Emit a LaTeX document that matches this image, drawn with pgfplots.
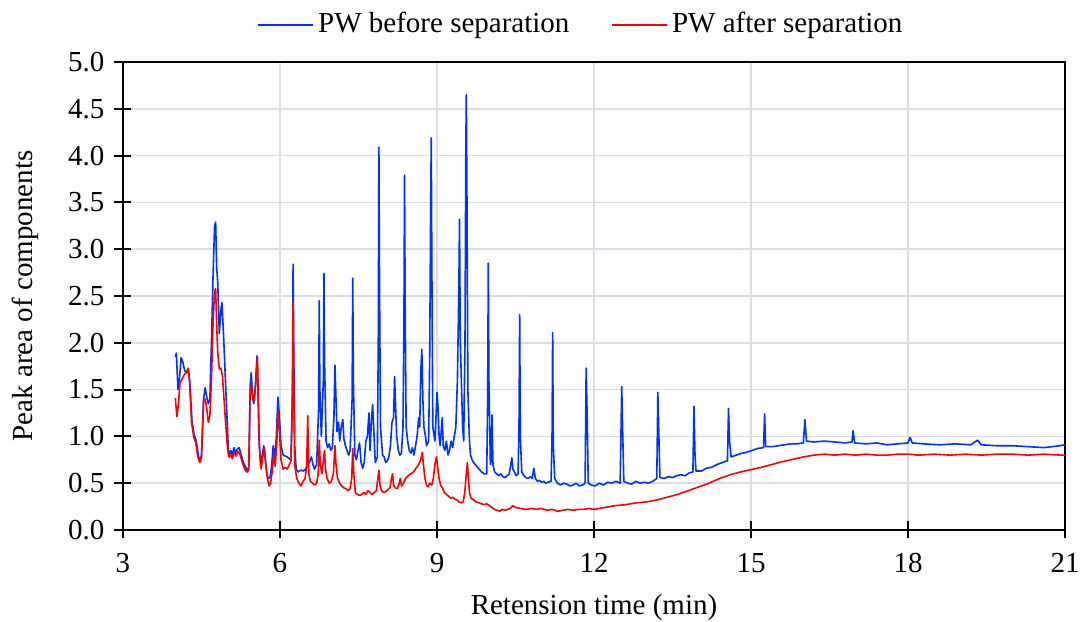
\documentclass[border=0pt]{standalone}
\usepackage{fontspec}
\setmainfont{Liberation Serif}
\usepackage{pgfplots}
\usepackage{pgfplotstable}
\pgfplotsset{compat=1.18}
\definecolor{pwblue}{RGB}{0,51,255}
\definecolor{pwred}{RGB}{255,0,0}
\definecolor{gridc}{RGB}{217,222,231}
\pgfplotstableread{
x y
4.00 1.85
4.02 1.89
4.05 1.50
4.08 1.62
4.11 1.84
4.14 1.80
4.18 1.70
4.22 1.68
4.25 1.73
4.28 1.55
4.32 1.15
4.36 1.02
4.40 0.95
4.44 0.80
4.47 0.73
4.50 0.80
4.54 1.40
4.57 1.52
4.60 1.42
4.63 1.35
4.66 1.40
4.69 2.00
4.72 2.70
4.75 3.25
4.77 3.29
4.79 2.80
4.81 2.65
4.84 2.10
4.87 2.35
4.89 2.43
4.92 2.10
4.95 1.70
4.98 1.30
5.01 0.90
5.03 0.78
5.06 0.85
5.09 0.80
5.12 0.88
5.15 0.82
5.18 0.86
5.22 0.88
5.26 0.80
5.30 0.72
5.34 0.68
5.38 0.62
5.41 0.70
5.43 1.55
5.45 1.68
5.48 1.40
5.50 1.35
5.53 1.55
5.56 1.86
5.58 1.45
5.60 0.95
5.63 0.68
5.66 0.80
5.69 0.90
5.72 0.75
5.75 0.60
5.78 0.55
5.81 0.56
5.84 0.68
5.87 0.90
5.90 0.75
5.93 1.00
5.96 1.42
5.99 1.20
6.02 0.90
6.06 0.80
6.10 0.79
6.14 0.78
6.18 0.76
6.21 0.75
6.238 1.50
6.25 2.84
6.262 2.00
6.28 0.90
6.31 0.65
6.35 0.62
6.40 0.64
6.45 0.63
6.50 0.66
6.53 0.70
6.56 0.72
6.60 0.78
6.63 0.70
6.66 0.65
6.70 0.70
6.738 1.30
6.75 2.45
6.762 1.50
6.79 1.00
6.828 1.60
6.84 2.74
6.852 1.80
6.88 0.95
6.91 0.88
6.94 0.92
6.97 0.85
7.00 0.88
7.03 1.20
7.05 1.76
7.07 1.40
7.09 1.05
7.12 1.15
7.14 0.95
7.17 1.10
7.20 1.18
7.22 0.98
7.25 0.90
7.28 0.85
7.31 0.80
7.34 0.85
7.378 1.40
7.39 2.69
7.402 1.60
7.43 0.80
7.46 0.75
7.49 0.85
7.52 0.93
7.55 0.72
7.58 0.66
7.61 0.72
7.64 0.95
7.67 1.00
7.70 1.25
7.72 0.85
7.75 1.20
7.77 1.34
7.79 1.10
7.82 0.72
7.86 0.78
7.878 2.00
7.89 4.09
7.902 2.60
7.92 1.10
7.96 0.80
7.99 0.78
8.02 0.72
8.05 0.74
8.08 0.78
8.11 0.90
8.14 1.15
8.17 1.20
8.19 1.64
8.21 1.30
8.23 1.00
8.26 0.85
8.29 0.80
8.32 0.82
8.35 1.10
8.368 2.20
8.38 3.79
8.392 2.40
8.41 1.10
8.44 0.95
8.47 0.85
8.50 0.82
8.53 0.88
8.56 0.80
8.59 0.90
8.62 1.00
8.65 1.20
8.67 1.10
8.69 1.70
8.71 1.93
8.73 1.40
8.75 1.10
8.78 1.00
8.80 0.90
8.84 0.95
8.86 1.80
8.876 3.20
8.89 4.19
8.902 2.80
8.92 1.10
8.96 0.95
8.98 1.20
9.00 1.47
9.02 1.30
9.04 1.00
9.06 0.90
9.08 1.05
9.10 1.20
9.12 0.90
9.15 0.85
9.18 0.95
9.21 0.80
9.24 0.85
9.27 0.95
9.30 0.88
9.33 1.00
9.36 1.10
9.39 1.60
9.418 2.60
9.43 3.32
9.445 2.05
9.47 1.50
9.49 1.10
9.51 0.95
9.535 2.00
9.55 4.00
9.56 4.65
9.572 3.60
9.59 1.50
9.62 0.95
9.64 0.80
9.67 0.75
9.70 0.72
9.73 0.70
9.76 0.68
9.79 0.66
9.82 0.64
9.85 0.62
9.88 0.61
9.90 0.60
9.95 0.60
9.968 1.40
9.98 2.85
9.992 1.60
10.02 0.70
10.04 0.75
10.05 1.23
10.07 0.70
10.10 0.62
10.14 0.60
10.18 0.58
10.22 0.60
10.26 0.57
10.30 0.56
10.34 0.58
10.38 0.60
10.41 0.70
10.43 0.77
10.45 0.65
10.48 0.62
10.51 0.58
10.55 0.60
10.568 1.20
10.58 2.30
10.592 1.00
10.62 0.62
10.66 0.58
10.70 0.56
10.74 0.55
10.78 0.57
10.82 0.55
10.85 0.66
10.88 0.55
10.92 0.52
10.96 0.53
11.00 0.51
11.04 0.52
11.08 0.50
11.12 0.51
11.18 0.52
11.198 1.00
11.21 2.11
11.222 0.90
11.25 0.55
11.30 0.50
11.36 0.48
11.42 0.50
11.48 0.49
11.54 0.47
11.60 0.48
11.66 0.50
11.72 0.47
11.78 0.48
11.83 0.50
11.85 1.73
11.87 1.20
11.89 0.50
11.95 0.48
12.02 0.47
12.10 0.50
12.18 0.48
12.26 0.51
12.34 0.50
12.42 0.52
12.50 0.50
12.53 1.53
12.55 1.00
12.57 0.52
12.64 0.50
12.72 0.49
12.80 0.52
12.88 0.50
12.96 0.51
13.04 0.50
13.12 0.52
13.20 0.55
13.22 1.47
13.24 1.00
13.26 0.56
13.34 0.55
13.42 0.57
13.50 0.56
13.58 0.58
13.66 0.59
13.74 0.58
13.82 0.61
13.89 0.62
13.91 1.32
13.93 0.80
13.95 0.63
14.05 0.63
14.15 0.66
14.25 0.67
14.35 0.70
14.45 0.72
14.55 0.74
14.57 1.30
14.59 0.95
14.62 0.78
14.72 0.80
14.82 0.82
14.92 0.83
15.02 0.85
15.12 0.87
15.24 0.88
15.26 1.24
15.28 0.89
15.40 0.89
15.52 0.90
15.64 0.91
15.76 0.92
15.88 0.92
16.00 0.93
16.03 1.18
16.06 0.95
16.20 0.94
16.40 0.95
16.60 0.94
16.80 0.93
16.93 0.94
16.95 1.06
16.98 0.93
17.20 0.92
17.40 0.93
17.60 0.91
17.80 0.92
18.00 0.93
18.04 0.99
18.08 0.93
18.30 0.92
18.60 0.91
18.90 0.92
19.20 0.91
19.33 0.96
19.40 0.91
19.70 0.90
20.00 0.90
20.30 0.89
20.60 0.88
20.90 0.90
21.00 0.91
}\before
\pgfplotstableread{
x y
4.00 1.41
4.03 1.21
4.06 1.35
4.09 1.58
4.12 1.60
4.16 1.65
4.20 1.68
4.24 1.72
4.27 1.60
4.31 1.15
4.35 1.00
4.39 0.93
4.43 0.78
4.47 0.72
4.50 0.78
4.54 1.38
4.57 1.40
4.60 1.30
4.63 1.15
4.66 1.22
4.69 1.60
4.72 2.20
4.75 2.55
4.77 2.58
4.79 2.20
4.81 1.90
4.84 1.72
4.87 1.73
4.90 1.65
4.93 1.40
4.96 1.15
4.99 0.92
5.02 0.78
5.06 0.80
5.09 0.76
5.12 0.83
5.16 0.79
5.20 0.84
5.24 0.80
5.28 0.72
5.32 0.66
5.36 0.62
5.40 0.64
5.43 1.50
5.45 1.55
5.48 1.40
5.51 1.38
5.54 1.60
5.57 1.85
5.59 1.30
5.61 0.85
5.64 0.65
5.67 0.78
5.70 0.88
5.73 0.70
5.76 0.55
5.79 0.47
5.82 0.50
5.85 0.62
5.88 0.80
5.91 0.68
5.94 0.95
5.96 1.27
5.99 1.05
6.02 0.75
6.06 0.65
6.10 0.67
6.14 0.65
6.18 0.70
6.21 0.74
6.238 1.40
6.25 2.44
6.262 1.60
6.28 0.70
6.32 0.55
6.36 0.50
6.40 0.47
6.44 0.52
6.48 0.55
6.51 0.70
6.53 1.22
6.55 0.60
6.58 0.52
6.62 0.50
6.66 0.48
6.70 0.50
6.73 0.60
6.75 0.96
6.77 0.70
6.80 0.60
6.83 0.75
6.85 0.85
6.87 0.65
6.90 0.55
6.94 0.50
6.98 0.52
7.02 0.60
7.05 0.90
7.07 0.70
7.10 0.55
7.14 0.50
7.18 0.47
7.22 0.45
7.26 0.44
7.30 0.42
7.34 0.44
7.37 0.55
7.39 0.87
7.41 0.60
7.44 0.40
7.48 0.38
7.52 0.37
7.56 0.38
7.60 0.40
7.64 0.38
7.68 0.42
7.72 0.40
7.76 0.38
7.80 0.40
7.84 0.42
7.87 0.55
7.89 0.64
7.91 0.48
7.94 0.42
7.98 0.40
8.02 0.41
8.06 0.43
8.10 0.45
8.13 0.55
8.15 0.60
8.17 0.48
8.20 0.45
8.24 0.44
8.27 0.48
8.30 0.55
8.32 0.47
8.36 0.50
8.40 0.55
8.45 0.58
8.50 0.60
8.55 0.62
8.60 0.66
8.65 0.70
8.69 0.75
8.72 0.83
8.74 0.70
8.77 0.55
8.80 0.48
8.83 0.46
8.86 0.50
8.90 0.48
8.93 0.55
8.96 0.70
8.99 0.78
9.01 0.68
9.04 0.55
9.07 0.48
9.10 0.45
9.14 0.40
9.18 0.38
9.22 0.36
9.26 0.34
9.30 0.35
9.34 0.33
9.38 0.32
9.42 0.30
9.46 0.29
9.50 0.30
9.53 0.40
9.56 0.60
9.58 0.72
9.60 0.55
9.62 0.40
9.65 0.34
9.70 0.32
9.75 0.30
9.80 0.29
9.85 0.28
9.90 0.27
9.95 0.28
10.00 0.26
10.05 0.24
10.10 0.22
10.15 0.21
10.20 0.20
10.25 0.22
10.30 0.21
10.35 0.22
10.40 0.23
10.45 0.26
10.50 0.24
10.60 0.23
10.70 0.22
10.80 0.23
10.90 0.22
11.00 0.23
11.10 0.21
11.20 0.22
11.30 0.20
11.40 0.21
11.50 0.22
11.60 0.21
11.70 0.22
11.80 0.22
11.90 0.23
12.00 0.22
12.10 0.23
12.20 0.24
12.40 0.26
12.60 0.27
12.80 0.29
13.00 0.30
13.20 0.32
13.40 0.35
13.60 0.38
13.80 0.42
14.00 0.46
14.20 0.50
14.40 0.55
14.60 0.59
14.80 0.62
15.00 0.645
15.20 0.67
15.40 0.70
15.60 0.73
15.80 0.755
16.00 0.78
16.20 0.80
16.40 0.81
16.60 0.80
16.80 0.81
17.00 0.80
17.20 0.81
17.40 0.80
17.60 0.80
17.80 0.81
18.00 0.81
18.20 0.80
18.50 0.81
18.80 0.80
19.10 0.81
19.40 0.80
19.70 0.81
20.00 0.81
20.30 0.80
20.60 0.81
20.90 0.80
21.00 0.80
}\after
\begin{document}
\fontsize{14.5}{17}\selectfont
\begin{tikzpicture}
\begin{axis}[
  scale only axis, width=471pt, height=234pt,
  xmin=3, xmax=21, ymin=0, ymax=5,
  xtick={3,6,...,21}, ytick={0,0.5,...,5},
  yticklabel style={/pgf/number format/.cd, fixed, fixed zerofill, precision=1},
  xticklabel shift=2.5pt,
  /pgf/number format/assume math mode=true,
  font=\fontsize{14.5}{17}\selectfont,
  grid=major, major grid style={gridc, line width=0.8pt},
  axis line style={black, line width=1pt},
  tick style={black, line width=1pt},
  tick align=center, major tick length=8.5pt,
  xtick pos=bottom, ytick pos=left,
  xlabel={Retension time (min)}, ylabel={Peak area of components},
  xlabel shift=1pt, ylabel shift=5pt,
  legend style={at={(0.5,1.035)}, anchor=south, xshift=-6pt, draw=none, fill=none,
    legend columns=2, font=\fontsize{14.5}{17}\selectfont,
    /tikz/every even column/.append style={column sep=19pt}},
  legend image code/.code={\draw[#1] (0pt,0pt) -- (27.5pt,0pt);},
]
\addplot[pwblue, line width=0.8pt, line join=round] table {\before};
\addlegendentry{PW before separation}
\addplot[pwred, line width=0.8pt, line join=round] table {\after};
\addlegendentry{PW after separation}
\end{axis}
\pgfresetboundingbox
\path[use as bounding box] ([xshift=-61.5pt,yshift=-46pt]current axis.south west) rectangle ([xshift=8pt,yshift=31pt]current axis.north east);
\end{tikzpicture}
\end{document}
